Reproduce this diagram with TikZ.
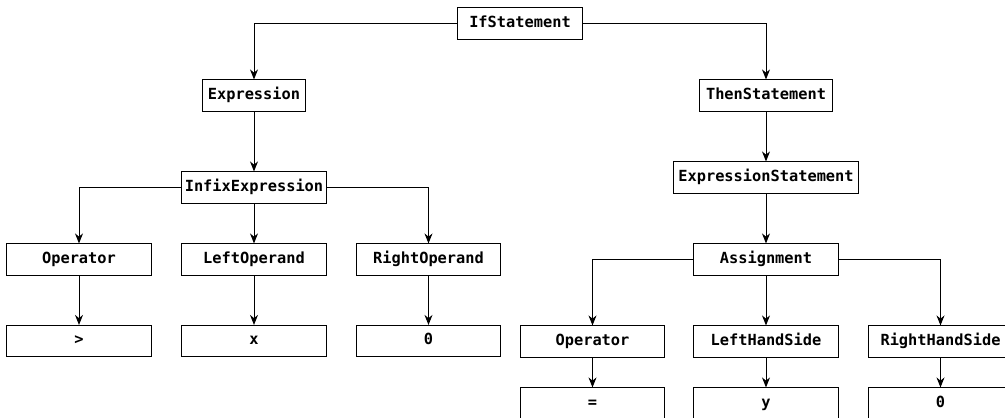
\documentclass[tikz,border=0pt]{standalone}
\usepackage{fontspec}
\setmonofont{DejaVu Sans Mono}
\usepackage{tikz}
\usetikzlibrary{arrows.meta}

\begin{document}
\begin{tikzpicture}[
	x = 0.025cm, y = -0.025cm,
	ast/.style  = {draw, line width=0.7pt, minimum height=0.78cm, inner sep=0pt,
		text height=0.75em, text depth=0.22em,
		font=\ttfamily\bfseries\fontsize{10.9}{13}\selectfont},
	leaf/.style = {ast, minimum width=3.6cm},
	link/.style = {draw, line width=0.7pt, -{Stealth[length=2.5mm, width=2mm]}}
]
	\useasboundingbox (0,0) rectangle (1005,417);
	\clip (0,0) rectangle (1005,417);

	% root and the two branches
	\node [ast, minimum width=3.1cm]   (ifstmt)   at (520,23.5) {IfStatement};
	\node [ast, minimum width=2.575cm] (expr)     at (254,95.5) {Expression};
	\node [ast, minimum width=3.325cm] (thenstmt) at (766,95.5) {ThenStatement};

	% condition
	\node [ast, minimum width=3.6cm]   (infix)    at (254,187.5) {InfixExpression};
	\node [leaf] (infixop)  at (79,259.5)    {Operator};
	\node [leaf] (leftop)   at (254,259.5)   {LeftOperand};
	\node [leaf] (rightop)  at (428.5,259.5) {RightOperand};
	\node [leaf] (gt)       at (79,341)      {>};
	\node [leaf] (xvar)     at (254,341)     {x};
	\node [leaf] (zeroa)    at (428.5,341)   {0};

	% body
	\node [ast, minimum width=4.625cm] (exprstmt) at (766,177.5) {ExpressionStatement};
	\node [leaf] (assign)   at (766,259.5)   {Assignment};
	\node [leaf] (assignop) at (592.5,341.5) {Operator};
	\node [leaf] (lhs)      at (766,341.5)   {LeftHandSide};
	\node [leaf] (rhs)      at (940.5,341.5) {RightHandSide};
	\node [leaf] (eq)       at (592.5,403.5) {=};
	\node [leaf] (yvar)     at (766,403.5)   {y};
	\node [leaf] (zerob)    at (940.5,403.5) {0};

	% connectors
	\draw [link] (ifstmt.west) -| (expr.north);
	\draw [link] (ifstmt.east) -| (thenstmt.north);
	\draw [link] (expr) -- (infix);
	\draw [link] (infix.west) -| (infixop.north);
	\draw [link] (infix) -- (leftop);
	\draw [link] (infix.east) -| (rightop.north);
	\draw [link] (infixop) -- (gt);
	\draw [link] (leftop) -- (xvar);
	\draw [link] (rightop) -- (zeroa);
	\draw [link] (thenstmt) -- (exprstmt);
	\draw [link] (exprstmt) -- (assign);
	\draw [link] (assign.west) -| (assignop.north);
	\draw [link] (assign) -- (lhs);
	\draw [link] (assign.east) -| (rhs.north);
	\draw [link] (assignop) -- (eq);
	\draw [link] (lhs) -- (yvar);
	\draw [link] (rhs) -- (zerob);
\end{tikzpicture}
\end{document}
